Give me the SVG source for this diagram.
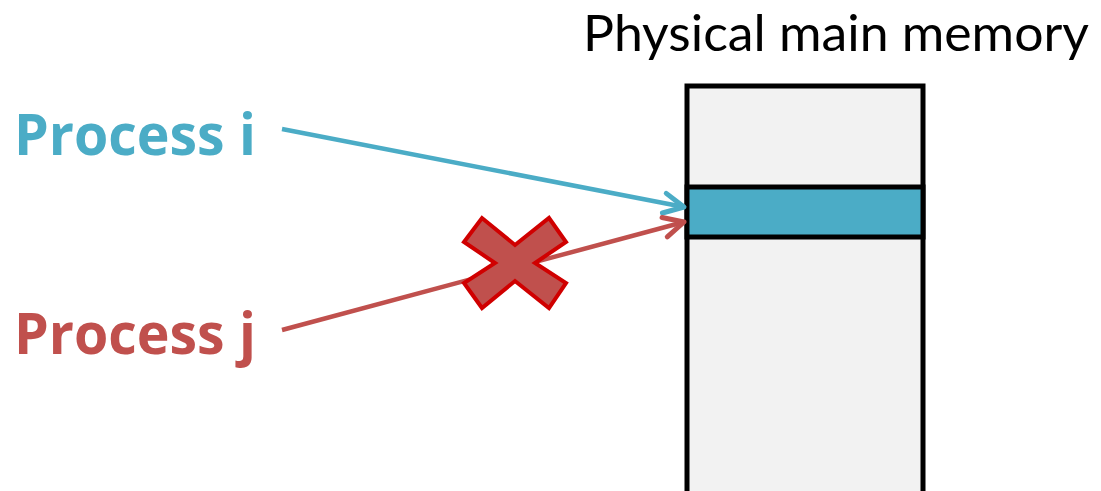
<svg xmlns="http://www.w3.org/2000/svg" width="1101" height="491" viewBox="0 0 1101 491">
<defs>
<style>
.lbl{font-family:"Open Sans","Liberation Sans",sans-serif;font-weight:bold;font-size:58px}
.title{font-family:Lato,"Open Sans","Liberation Sans",sans-serif;font-size:51px;fill:#000}
.mem{fill:#F2F2F2;stroke:#000;stroke-width:5}
.band{fill:#4BACC6;stroke:#000;stroke-width:5}
.conn{fill:none;stroke-width:4.5}
</style>
<marker id="ab" markerUnits="userSpaceOnUse" markerWidth="30" markerHeight="30" refX="24" refY="12" orient="auto" viewBox="0 0 30 24">
<path d="M4,2 L24,12 L4,22" fill="none" stroke="#4BACC6" stroke-width="5" stroke-linecap="round" stroke-linejoin="round"/>
</marker>
<marker id="ar" markerUnits="userSpaceOnUse" markerWidth="30" markerHeight="30" refX="24" refY="12" orient="auto" viewBox="0 0 30 24">
<path d="M4,2 L24,12 L4,22" fill="none" stroke="#C0504D" stroke-width="5" stroke-linecap="round" stroke-linejoin="round"/>
</marker>
</defs>
<rect width="1101" height="491" fill="#fff"/>
<g id="title"><text class="title" x="583" y="51" textLength="506" lengthAdjust="spacingAndGlyphs">Physical main memory</text></g>
<g id="memory">
<rect class="mem" x="687" y="86" width="236" height="420"/>
<rect class="band" x="687" y="187" width="236" height="50"/>
</g>
<g id="process-i"><text class="lbl" x="14" y="155" fill="#4BACC6" textLength="242" lengthAdjust="spacingAndGlyphs">Process i</text></g>
<g id="process-j"><text class="lbl" x="14" y="354" fill="#C0504D" textLength="242" lengthAdjust="spacingAndGlyphs">Process j</text></g>
<g id="connectors">
<line class="conn" x1="282" y1="129" x2="684" y2="207" stroke="#4BACC6" marker-end="url(#ab)"/>
<line class="conn" x1="282" y1="330" x2="684" y2="222" stroke="#C0504D" marker-end="url(#ar)"/>
</g>
<g id="cross">
<polygon points="464,242 482,218 515,245 549,218 566,242 535,263 566,283 549,308 515,281 482,308 464,283 495,263" fill="#C0504D" stroke="#D00000" stroke-width="4" stroke-linejoin="miter"/>
</g>
</svg>
